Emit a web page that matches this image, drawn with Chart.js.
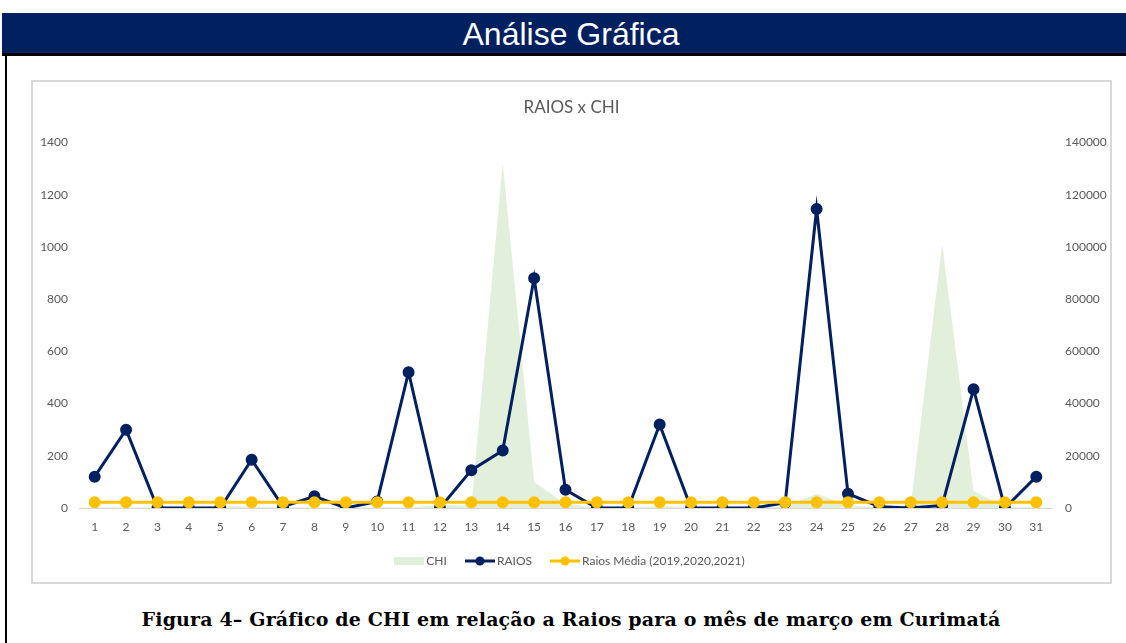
<!DOCTYPE html>
<html>
<head>
<meta charset="utf-8">
<script src="https://cdn.jsdelivr.net/npm/chart.js@4"></script>
<style>
  body { margin: 0; background: #fff; width: 1126px; height: 643px; overflow: hidden; position: relative; }
  #header { position: absolute; left: 2px; top: 13px; width: 1124px; height: 40px; background: #002060;
    color: #fff; font-family: "Liberation Sans", sans-serif; font-size: 32px;
    text-align: center; line-height: 42px; box-sizing: border-box; padding-left: 14px; }
  #rule { position: absolute; left: 2px; top: 53px; width: 1124px; height: 3px; background: #000; }
  #leftBorder { position: absolute; left: 5px; top: 55px; width: 2px; height: 588px; background: #000; }
  #box { position: absolute; left: 31px; top: 80px; width: 1081px; height: 504px; box-sizing: border-box;
    border: 2px solid #d9d9d9; }
  #chartWrap { position: absolute; left: 31px; top: 80px; width: 1081px; height: 504px; }
  #caption { position: absolute; left: 0; top: 608px; width: 1142px; text-align: center;
    font-family: "DejaVu Serif", serif; font-weight: bold; font-size: 19px; letter-spacing: 0.16px; color: #000; }
</style>
</head>
<body>
<div id="header">Análise Gráfica</div>
<div id="rule"></div>
<div id="leftBorder"></div>
<div id="box"></div>
<div id="chartWrap"><canvas id="chart"></canvas></div>
<div id="caption">Figura 4– Gráfico de CHI em relação a Raios para o mês de março em Curimatá</div>

<script>
let days = [];
for (let d = 1; d <= 31; d++) days.push(String(d));

let chi = [300, 200, 300, 200, 800, 600, 300, 200, 100, 300, 200, 1200, 800, 132000, 10000, 1500,
  200, 300, 800, 500, 200, 300, 500, 5500, 1000, 300, 800, 101000, 6500, 500, 300];
let raios = [120, 300, 0, 0, 0, 185, 5, 45, 0, 25, 520, 0, 145, 220, 880, 70,
  0, 0, 320, 0, 0, 0, 20, 1145, 55, 5, 0, 10, 455, 0, 120];
let raiosMedia = [22, 22, 22, 22, 22, 22, 22, 22, 22, 22, 22, 22, 22, 22, 22, 22,
  22, 22, 22, 22, 22, 22, 22, 22, 22, 22, 22, 22, 22, 22, 22];

const grey = '#595959';
Chart.defaults.font.family = 'Lato, "Open Sans", sans-serif';
Chart.defaults.color = grey;

function legendIcon(color, withDot) {
    const c = document.createElement('canvas');
    c.width = 30; c.height = 10;
    const g = c.getContext('2d');
    if (withDot) {
        g.strokeStyle = color;
        g.lineWidth = 3;
        g.beginPath(); g.moveTo(0, 5); g.lineTo(30, 5); g.stroke();
        g.fillStyle = color;
        g.beginPath(); g.arc(15, 5, 4.5, 0, Math.PI * 2); g.fill();
    } else {
        g.fillStyle = color;
        g.fillRect(0, 1, 30, 8);
    }
    return c;
}

const plain = v => String(v);

const ctx = document.getElementById('chart').getContext('2d');
const chart = new Chart(ctx, {
    type: 'line',
    data: {
        labels: days,
        datasets: [
            {
                label: 'CHI', data: chi, yAxisID: 'y1', order: 2,
                fill: 'origin', backgroundColor: '#e2efda', borderWidth: 0, pointRadius: 0,
                tension: 0
            },
            {
                label: 'RAIOS', data: raios, yAxisID: 'y', order: 1,
                borderColor: '#002060', backgroundColor: '#002060', borderWidth: 3,
                pointRadius: 4.5, pointStyle: 'circle', tension: 0
            },
            {
                label: 'Raios Média (2019,2020,2021)', data: raiosMedia, yAxisID: 'y', order: 0,
                borderColor: '#ffc000', backgroundColor: '#ffc000', borderWidth: 3,
                pointRadius: 4.5, pointStyle: 'circle', tension: 0
            }
        ]
    },
    options: {
        responsive: true,
        maintainAspectRatio: false,
        animation: false,
        layout: { padding: { top: 0, bottom: 7, left: 0, right: 0 } },
        scales: {
            x: {
                offset: true,
                grid: { display: false, drawTicks: false },
                border: { color: '#d9d9d9', width: 1 },
                ticks: { font: { size: 12 }, padding: 12, maxRotation: 0, autoSkip: false },
                afterFit(s) { s.height = 25; }
            },
            y: {
                position: 'left', min: 0, max: 1400,
                ticks: { stepSize: 200, font: { size: 12 }, padding: 11, callback: plain },
                grid: { display: false, drawTicks: false },
                border: { display: false },
                afterFit(s) { s.width = 48; }
            },
            y1: {
                position: 'right', min: 0, max: 140000,
                ticks: { stepSize: 20000, font: { size: 12 }, padding: 13, callback: plain },
                grid: { display: false, drawTicks: false },
                border: { display: false },
                afterFit(s) { s.width = 60; }
            }
        },
        plugins: {
            filler: { drawTime: 'beforeDatasetsDraw' },
            tooltip: { enabled: false },
            title: {
                display: true, text: 'RAIOS x CHI', color: grey,
                font: { size: 17, weight: 'normal' },
                padding: { top: 17, bottom: 25 }
            },
            legend: {
                position: 'bottom',
                labels: {
                    usePointStyle: true, pointStyleWidth: 22, boxHeight: 10,
                    font: { size: 12 }, color: grey, padding: 22,
                    sort: (a, b) => a.datasetIndex - b.datasetIndex,
                    generateLabels(ch) {
                        const items = Chart.defaults.plugins.legend.labels.generateLabels(ch);
                        items.forEach(it => {
                            const ds = ch.data.datasets[it.datasetIndex];
                            it.pointStyle = it.datasetIndex === 0 ? legendIcon('#e2efda', false)
                                : legendIcon(ds.borderColor, true);
                        });
                        return items;
                    }
                }
            }
        }
    }
});
</script>
</body>
</html>
